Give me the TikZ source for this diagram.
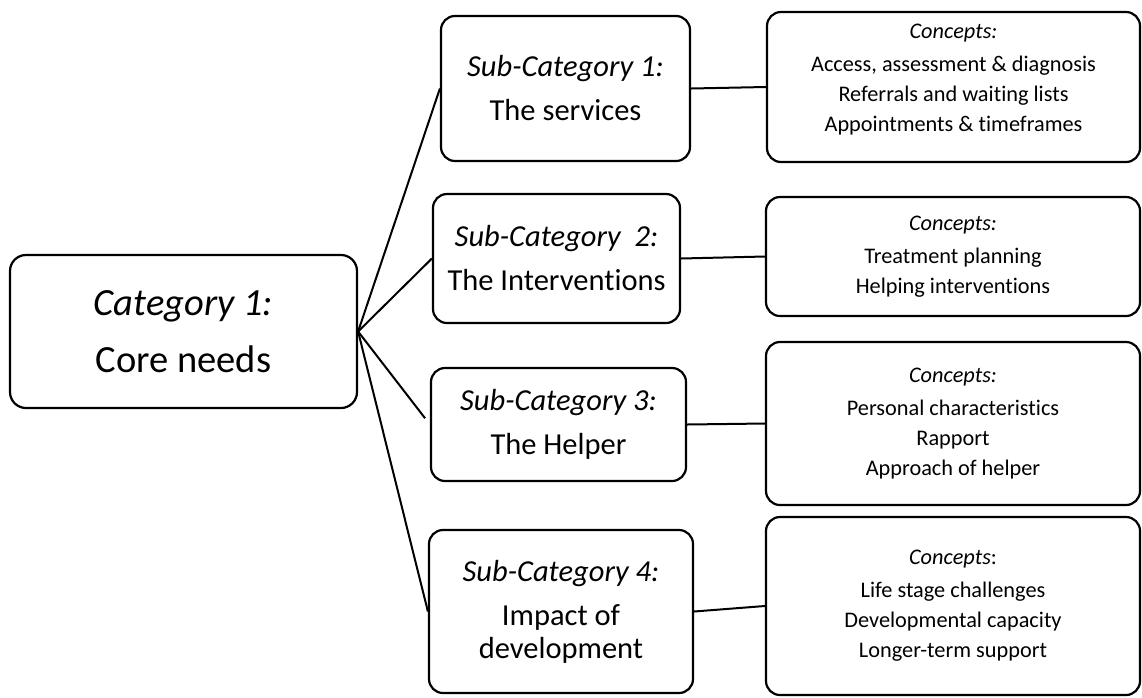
\documentclass[tikz,border=0pt]{standalone}
\usepackage{fontspec}
\setmainfont{Carlito}[Ligatures=NoCommon]
\tikzstyle{catbox}=[draw, rounded corners=16pt, line width=2.2pt, align=center, inner sep=0pt, font=\fontsize{38.5}{45}\selectfont]
\tikzstyle{subbox}=[draw, rounded corners=14pt, line width=2.2pt, align=center, inner sep=0pt, font=\fontsize{30.5}{33}\selectfont]
\tikzstyle{conbox}=[draw, rounded corners=14pt, line width=2.2pt, align=center, inner sep=0pt, font=\fontsize{22.3}{30}\selectfont]
\tikzstyle{edge} = [draw, line width=2pt, -]

\begin{document}
\begin{tikzpicture}[x=1pt, y=-1pt]
    \useasboundingbox (0,0) rectangle (1142,697);

    % category
    \node[catbox, minimum width=347pt, minimum height=153pt] (Cat) at (183.5,331.5)
        {\textit{Category 1:}\\[12pt]Core needs};

    % sub-categories
    \node[subbox, minimum width=249pt, minimum height=145pt] (Sub1) at (565.5,88.5)
        {\textit{Sub-Category 1:}\\[11pt]The services};
    \node[subbox, minimum width=247pt, minimum height=129pt] (Sub2) at (556.5,258.5)
        {\textit{Sub-Category\ \ 2:}\\[11pt]The Interventions};
    \node[subbox, minimum width=255pt, minimum height=113pt] (Sub3) at (558.5,424.5)
        {\textit{Sub-Category 3:}\\[11pt]The Helper};
    \node[subbox, minimum width=264pt, minimum height=163pt] (Sub4) at (561,611.5)
        {\textit{Sub-Category 4:}\\[11pt]Impact of\\development};

    % concepts
    \node[conbox, minimum width=373pt, minimum height=150pt] (Con1) at (953.5,87)
        {\textit{Concepts:}\\[3pt]Access, assessment \& diagnosis\\Referrals and waiting lists\\Appointments \& timeframes\rule[-18pt]{0pt}{0pt}};
    \node[conbox, minimum width=374pt, minimum height=119pt] (Con2) at (953,256.5)
        {\textit{Concepts:}\\[3pt]Treatment planning\\Helping interventions};
    \node[conbox, minimum width=374pt, minimum height=163pt] (Con3) at (953,423.5)
        {\textit{Concepts:}\\[3pt]Personal characteristics\\Rapport\\Approach of helper};
    \node[conbox, minimum width=374pt, minimum height=178pt] (Con4) at (953,606)
        {\textit{Concepts}:\\[3pt]Life stage challenges\\Developmental capacity\\Longer-term support};

    % connect category with sub-categories
    \foreach \dest in {Sub1,Sub2,Sub4}
        \path[edge] (Cat.east) -- (\dest.west);
    \path[edge, shorten >=8pt] (Cat.east) -- (Sub3.west);

    % connect sub-categories with concepts
    \foreach \source/ \dest in {Sub1/Con1,Sub2/Con2,Sub3/Con3,Sub4/Con4}
        \path[edge] (\source.east) -- (\dest.west);

\end{tikzpicture}
\end{document}
